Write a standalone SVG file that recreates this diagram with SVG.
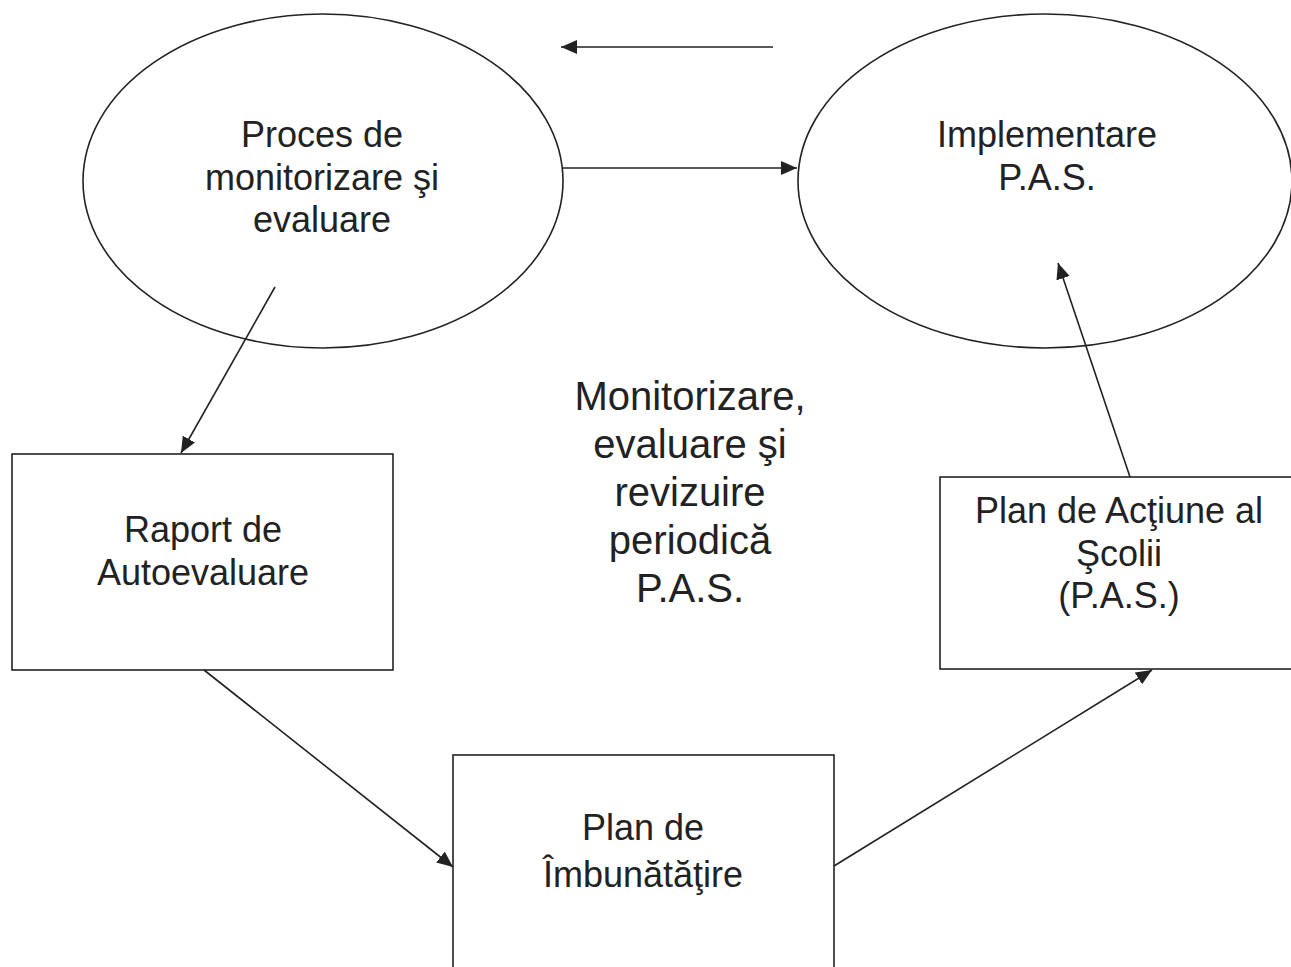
<svg xmlns="http://www.w3.org/2000/svg" width="1291" height="967" viewBox="0 0 1291 967">
<style>
.shape{fill:#fff;stroke:#222;stroke-width:1.6}
.conn{stroke:#222;stroke-width:1.6;fill:none;marker-end:url(#ah)}
text{font-family:"Liberation Sans",Arial,sans-serif;fill:#222;text-anchor:middle}
.t36{font-size:36px}
.t40{font-size:40px}
</style>
<defs>
<marker id="ah" markerUnits="userSpaceOnUse" markerWidth="16" markerHeight="14" refX="16" refY="7" orient="auto">
<path d="M0,0 L16,7 L0,14 z" fill="#222"/>
</marker>
</defs>
<rect width="1291" height="967" fill="#fff"/>
<g id="n-proces">
<ellipse class="shape" cx="323" cy="181" rx="240" ry="167"/>
<text class="t36" x="322" y="147">Proces de</text>
<text class="t36" x="322" y="190">monitorizare şi</text>
<text class="t36" x="322" y="232">evaluare</text>
</g>
<g id="n-implementare">
<ellipse class="shape" cx="1045" cy="181" rx="247" ry="167"/>
<text class="t36" x="1047" y="147">Implementare</text>
<text class="t36" x="1047" y="190">P.A.S.</text>
</g>
<g id="n-raport">
<rect class="shape" x="12" y="454" width="381" height="216"/>
<text class="t36" x="203" y="542">Raport de</text>
<text class="t36" x="203" y="585">Autoevaluare</text>
</g>
<g id="n-pas">
<rect class="shape" x="940" y="477" width="370" height="192"/>
<text class="t36" x="1119" y="523">Plan de Acţiune al</text>
<text class="t36" x="1119" y="566">Şcolii</text>
<text class="t36" x="1119" y="608">(P.A.S.)</text>
</g>
<g id="n-imbunatatire">
<rect class="shape" x="453" y="755" width="381" height="230"/>
<text class="t36" x="643" y="840">Plan de</text>
<text class="t36" x="643" y="887">Îmbunătăţire</text>
</g>
<g id="center-label">
<text class="t40" x="690" y="410">Monitorizare,</text>
<text class="t40" x="690" y="458">evaluare şi</text>
<text class="t40" x="690" y="506">revizuire</text>
<text class="t40" x="690" y="554">periodică</text>
<text class="t40" x="690" y="602">P.A.S.</text>
</g>
<g id="connectors">
<line class="conn" x1="773" y1="47" x2="561" y2="47"/>
<line class="conn" x1="563" y1="168" x2="797" y2="168"/>
<line class="conn" x1="275" y1="287" x2="181" y2="453"/>
<line class="conn" x1="204" y1="670" x2="453" y2="867"/>
<line class="conn" x1="834" y1="866" x2="1152" y2="670"/>
<line class="conn" x1="1130" y1="477" x2="1058" y2="263"/>
</g>
</svg>
